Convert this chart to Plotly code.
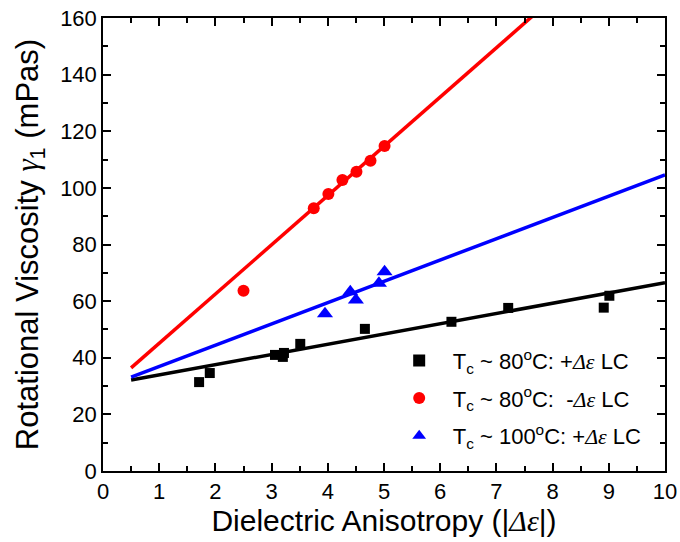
import plotly.graph_objects as go

# Rotational viscosity vs. dielectric anisotropy for three LC mixture groups
pos80_x = [1.71, 1.90, 3.06, 3.22, 3.20, 3.51, 4.66, 6.20, 7.21, 8.91, 9.01]
pos80_y = [31.4, 34.6, 41.0, 41.7, 40.3, 44.9, 50.2, 52.7, 57.6, 57.7, 61.9]

neg80_x = [2.50, 3.75, 4.01, 4.26, 4.51, 4.76, 5.01]
neg80_y = [63.7, 92.8, 97.8, 102.8, 105.7, 109.6, 114.8]

pos100_x = [3.95, 4.40, 4.50, 4.91, 5.01]
pos100_y = [55.5, 63.3, 60.4, 66.3, 70.4]

# Linear fits (slope, intercept) drawn over the fit range
fit_slope = [3.62, 17.4, 7.52]
fit_intercept = [30.3, 27.7, 29.4]
fit_range = [0.5, 10.0]

serif = "font-family:Liberation Serif"
names = [
    f"T<sub>c</sub> ~ 80<sup>o</sup>C: +<i><span style='{serif}'>Δε</span></i> LC",
    f"T<sub>c</sub> ~ 80<sup>o</sup>C:  -<i><span style='{serif}'>Δε</span></i> LC",
    f"T<sub>c</sub> ~ 100<sup>o</sup>C: +<i><span style='{serif}'>Δε</span></i> LC",
]
colors = ["#000000", "#ff0000", "#0000ff"]
symbols = ["square", "circle", "triangle-up"]
sizes = [10, 12, 14]
xs = [pos80_x, neg80_x, pos100_x]
ys = [pos80_y, neg80_y, pos100_y]

fig = go.Figure()

for m, b, c in zip(fit_slope, fit_intercept, colors):
    fx = fit_range
    fy = [m * v + b for v in fx]
    fig.add_trace(go.Scatter(x=fx, y=fy, mode="lines",
                             line=dict(color=c, width=3.5),
                             showlegend=False, hoverinfo="skip"))

for i, (x, y, n, c, s, sz) in enumerate(zip(xs, ys, names, colors, symbols, sizes)):
    fig.add_trace(go.Scatter(x=x, y=y, mode="markers", name=n,
                             legendgroup=f"g{i}",
                             marker=dict(color=c, symbol=s, size=sz,
                                         line=dict(width=0))))

font = "Liberation Sans, Arial, sans-serif"
axis_common = dict(
    showline=True, linecolor="black", linewidth=1.5, mirror="allticks",
    ticks="inside", ticklen=8, tickwidth=1.5, tickcolor="black",
    showgrid=False, zeroline=False, automargin=False,
    tickfont=dict(family=font, size=22, color="black"),
)

fig.update_xaxes(
    range=[0, 10], dtick=1, tick0=0,
    minor=dict(ticks="inside", ticklen=5, tickwidth=1.5, dtick=0.5, tickcolor="black"),
    title=dict(text=f"Dielectric Anisotropy (|<i><span style='{serif}'>Δε</span></i>|)",
               font=dict(family=font, size=30, color="black"), standoff=7),
    **axis_common,
)
fig.update_yaxes(
    range=[0, 160], dtick=20, tick0=0,
    minor=dict(ticks="inside", ticklen=5, tickwidth=1.5, dtick=10, tickcolor="black"),
    title=dict(text=f"Rotational Viscosity <i><span style='{serif}'>γ</span></i><sub>1</sub> (mPas)",
               font=dict(family=font, size=31, color="black"), standoff=12),
    **axis_common,
)

fig.update_layout(
    width=680, height=542,
    margin=dict(l=103, r=15, t=18, b=71),
    paper_bgcolor="white", plot_bgcolor="white",
    showlegend=True,
    legend=dict(x=0.503, y=0.29, xanchor="left", yanchor="top",
                bgcolor="rgba(0,0,0,0)", borderwidth=0,
                font=dict(family=font, size=22, color="black"),
                itemsizing="constant", itemwidth=57,
                traceorder="grouped", tracegroupgap=6),
)

fig.write_html("out.html")
